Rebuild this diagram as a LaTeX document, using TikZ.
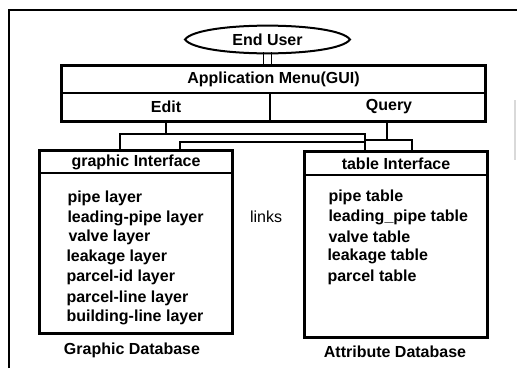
\documentclass[tikz,border=0pt]{standalone}
\usepackage{fontspec}
\setmainfont{Liberation Sans}

\tikzset{every picture/.style={line width=0.75pt}}
\tikzset{
  lbl/.style={font=\fontsize{12}{14}\selectfont\bfseries, inner sep=0.75pt},
  itm/.style={lbl, anchor=west},
  cell/.style={draw, line width=0.9pt, lbl, inner sep=0pt},
  wire/.style={line width=0.9pt},
  thickbox/.style={line width=2.2pt}
}

\begin{document}
\begin{tikzpicture}[x=0.75pt,y=0.75pt,yscale=-1,xscale=1]
\useasboundingbox (0,0) rectangle (517,368);

%Straight Lines [frame]
\draw [line width=1.1pt] (9,368) -- (9,10) -- (517,10) ;
\draw [color=black!15, line width=0.9pt] (515,100) -- (515,160) ;

%Shape: Ellipse [end user]
\node [lbl, minimum width=123pt, minimum height=18pt] (enduser) at (267.5,39.5) {End User};
\draw [line width=1.5pt] (enduser.west) .. controls (198,21) and (337,21) .. (enduser.east) .. controls (337,58) and (198,58) .. cycle ;

%Shape: Rectangle [menu]
\node [cell, minimum width=317.25pt, minimum height=20.25pt] (appmenu) at (273.5,79.5) {Application Menu(GUI)};
\node [cell, minimum width=156pt, minimum height=21pt] (edit) at (166,107) {Edit};
\node [cell, minimum width=161.25pt, minimum height=21pt] (query) at (377.5,107) {};
\draw [thickbox] (appmenu.north west) rectangle (query.south east) ;

%Straight Lines [double link user - menu]
\draw [wire] ([xshift=-3pt]enduser.south) -- ([xshift=-3pt]enduser.south |- appmenu.north) ;
\draw [wire] ([xshift=3pt]enduser.south) -- ([xshift=3pt]enduser.south |- appmenu.north) ;

%Shape: Rectangle [graphic database]
\node [cell, minimum width=144pt, minimum height=16.5pt] (ghead) at (136,162) {graphic Interface};
\node [draw, line width=0.9pt, minimum width=144pt, minimum height=120pt] (gbody) at (136,253) {};
\draw [thickbox] (ghead.north west) rectangle (gbody.south east) ;

%Shape: Rectangle [attribute database]
\node [cell, minimum width=136.5pt, minimum height=17.25pt] (thead) at (396,163.5) {table Interface};
\node [draw, line width=0.9pt, minimum width=136.5pt, minimum height=121.5pt] (tbody) at (396,256) {};
\draw [thickbox] (thead.north west) rectangle (tbody.south east) ;

% Text Node
\node [lbl] (querytxt) at (389,107) {Query};
% Text Node
\node [itm] (pipelyr) at (66,198) {pipe layer};
\node [itm] (leadlyr) at (66,218) {leading-pipe layer};
\node [itm] (valvelyr) at (67,237) {valve layer};
\node [itm] (leaklyr) at (65,257) {leakage layer};
\node [itm] (pidlyr) at (65,277) {parcel-id layer};
\node [itm] (plinelyr) at (65,298) {parcel-line layer};
\node [itm] (blinelyr) at (65,317) {building-line layer};
% Text Node
\node [itm] (pipetbl) at (327,197) {pipe table};
\node [itm] (leadtbl) at (327,217) {leading\_pipe table};
\node [itm] (valvetbl) at (327,237) {valve table};
\node [itm] (leaktbl) at (326,256) {leakage table};
\node [itm] (parceltbl) at (326,277) {parcel table};
% Text Node
\node [lbl] (gdb) at (132,350) {Graphic Database};
\node [lbl] (adb) at (395,352) {Attribute Database};
\node [lbl, font=\fontsize{12}{14}\selectfont] (links) at (266,217) {links};

%Straight Lines [links between menu and databases]
\coordinate (ej) at (edit.south |- 0,134);
\coordinate (lk) at (365,142);
\coordinate (qj) at (387,140);
\draw [wire] (edit.south) -- (ej) ;
\draw [wire] (ghead.north -| 120,0) |- (ej) -| (thead.north -| 365,0) ;
\draw [wire] (ghead.north -| 180,0) |- (lk) ;
\draw [wire] (qj |- query.south) -- (qj) ;
\draw [wire] (thead.north -| 365,0) |- (qj) -| (thead.north -| 412,0) ;

\end{tikzpicture}
\end{document}
